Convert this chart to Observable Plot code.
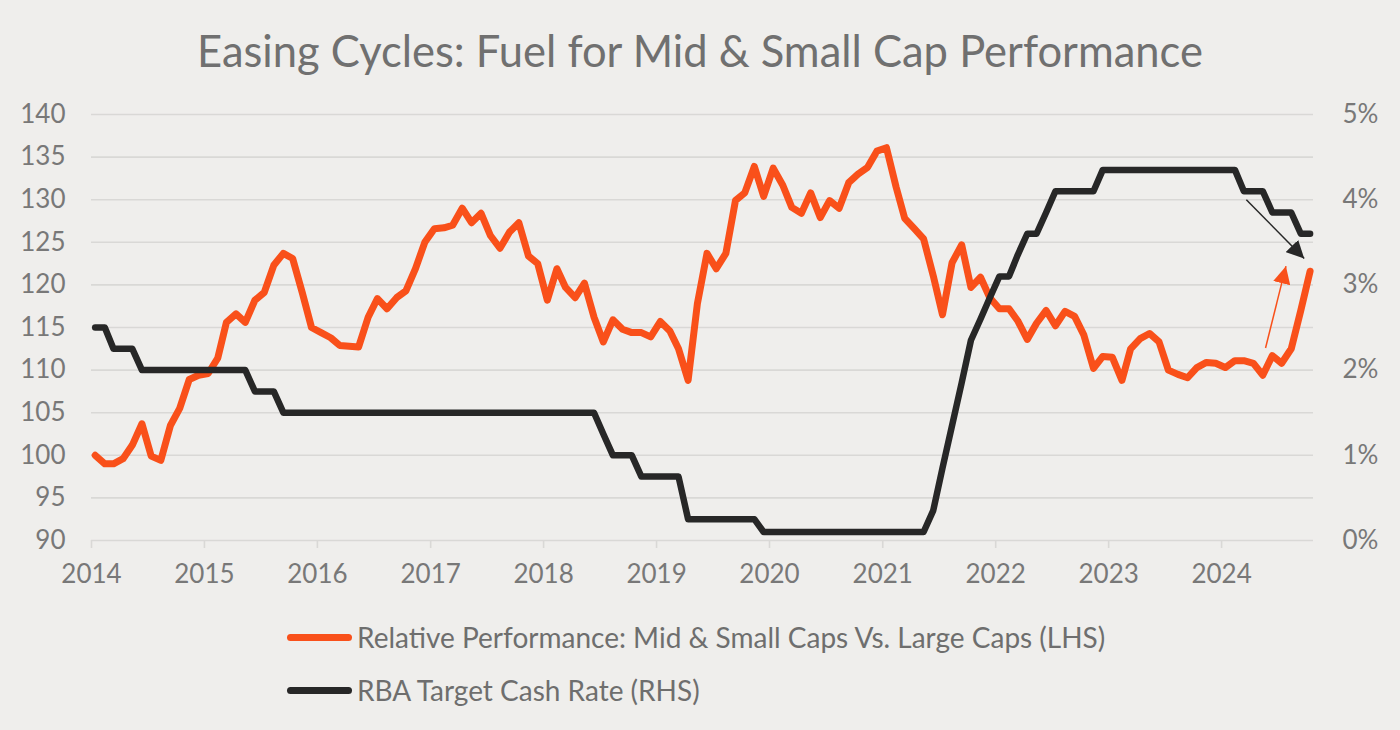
<!DOCTYPE html>
<html>
<head>
<meta charset="utf-8">
<script src="https://cdn.jsdelivr.net/npm/d3@7"></script>
<script src="https://cdn.jsdelivr.net/npm/@observablehq/plot@0.6"></script>
<style>
html, body { margin: 0; padding: 0; background: #efeeec; }
body { width: 1400px; height: 730px; overflow: hidden; font-family: Lato, "Open Sans", sans-serif; }
#title { height: 90px; line-height: 100px; text-align: center; font-size: 43.5px; color: #707070; white-space: nowrap; }
#chart svg { display: block; }
#legend { position: relative; height: 130px; }
.row { position: absolute; left: 287px; display: flex; align-items: center; height: 40px; }
.sw { width: 65px; height: 7px; border-radius: 4px; margin-right: 5px; }
.lab { font-size: 28px; color: #6e6e6e; white-space: nowrap; }
</style>
</head>
<body>
<div id="title">Easing Cycles: Fuel for Mid &amp; Small Cap Performance</div>
<div id="chart"></div>
<div id="legend"></div>
<script>
// ---------------- data ----------------
const startYear = 2014; // monthly series starting January 2014

// Relative Performance: Mid & Small Caps Vs. Large Caps (LHS), monthly
const perf = [
  100.0, 99.0, 99.0, 99.6, 101.2, 103.7, 99.9, 99.4, 103.5, 105.5, 108.9, 109.4,
  109.6, 111.4, 115.6, 116.6, 115.6, 118.2, 119.1, 122.3, 123.7, 123.1, 119.1, 115.0,
  114.4, 113.8, 112.9, 112.8, 112.7, 116.2, 118.4, 117.2, 118.5, 119.3, 121.9, 125.0,
  126.6, 126.7, 127.0, 129.0, 127.3, 128.4, 125.8, 124.3, 126.2, 127.3, 123.4, 122.5,
  118.2, 121.9, 119.7, 118.5, 120.2, 116.2, 113.3, 115.9, 114.8, 114.4, 114.4, 113.9,
  115.7, 114.6, 112.5, 108.8, 117.8, 123.7, 121.9, 123.7, 129.9, 130.8, 133.9, 130.4,
  133.7, 131.7, 129.1, 128.4, 130.8, 127.9, 129.9, 129.0, 132.0, 133.0, 133.8, 135.7,
  136.1, 131.5, 127.8, 126.6, 125.4, 121.1, 116.5, 122.6, 124.7, 119.7, 120.9, 118.5,
  117.2, 117.2, 115.8, 113.6, 115.5, 117.0, 115.2, 116.9, 116.3, 114.1, 110.2, 111.6,
  111.5, 108.8, 112.5, 113.7, 114.3, 113.3, 110.0, 109.5, 109.1, 110.3, 110.9, 110.8,
  110.3, 111.1, 111.1, 110.8, 109.4, 111.7, 110.8, 112.5, 117.0, 121.6
];

// RBA Target Cash Rate (RHS), percent, monthly
const rate = [
  2.5, 2.5, 2.25, 2.25, 2.25, 2.0, 2.0, 2.0, 2.0, 2.0, 2.0, 2.0,
  2.0, 2.0, 2.0, 2.0, 2.0, 1.75, 1.75, 1.75, 1.5, 1.5, 1.5, 1.5,
  1.5, 1.5, 1.5, 1.5, 1.5, 1.5, 1.5, 1.5, 1.5, 1.5, 1.5, 1.5,
  1.5, 1.5, 1.5, 1.5, 1.5, 1.5, 1.5, 1.5, 1.5, 1.5, 1.5, 1.5,
  1.5, 1.5, 1.5, 1.5, 1.5, 1.5, 1.25, 1.0, 1.0, 1.0, 0.75, 0.75,
  0.75, 0.75, 0.75, 0.25, 0.25, 0.25, 0.25, 0.25, 0.25, 0.25, 0.25, 0.1,
  0.1, 0.1, 0.1, 0.1, 0.1, 0.1, 0.1, 0.1, 0.1, 0.1, 0.1, 0.1,
  0.1, 0.1, 0.1, 0.1, 0.1, 0.35, 0.85, 1.35, 1.85, 2.35, 2.6, 2.85,
  3.1, 3.1, 3.35, 3.6, 3.6, 3.85, 4.1, 4.1, 4.1, 4.1, 4.1, 4.35,
  4.35, 4.35, 4.35, 4.35, 4.35, 4.35, 4.35, 4.35, 4.35, 4.35, 4.35, 4.35,
  4.35, 4.35, 4.1, 4.1, 4.1, 3.85, 3.85, 3.85, 3.6, 3.6
];

const yearTicks = [2014, 2015, 2016, 2017, 2018, 2019, 2020, 2021, 2022, 2023, 2024];
const leftTicks = [90, 95, 100, 105, 110, 115, 120, 125, 130, 135, 140];
const rightTicks = [0, 1, 2, 3, 4, 5]; // percent

const seriesNames = [
  "Relative Performance: Mid & Small Caps Vs. Large Caps (LHS)",
  "RBA Target Cash Rate (RHS)"
];
const seriesColors = ["#f9501a", "#272727"];

// annotation arrows (start/end in date + LHS units)
const arrowStart = [["2024-03-21", 130.0], ["2024-05-22", 112.6]];
const arrowEnd   = [["2024-09-24", 123.1], ["2024-07-27", 122.2]];

// ---------------- build ----------------
const lhsMin = 90, lhsPerPct = 10; // right axis 0%..5% maps onto left 90..140
const toLhs = r => lhsMin + r * lhsPerPct;
const monthDate = i => new Date(Date.UTC(startYear, i, 13));

const perfData = perf.map((v, i) => ({date: monthDate(i), value: v}));
const rateData = rate.map((v, i) => ({date: monthDate(i), value: toLhs(v)}));
const yearDates = yearTicks.map(y => new Date(Date.UTC(y, 0, 1)));
const arrows = arrowStart.map((s, i) => ({
  x1: new Date(s[0]), y1: s[1], x2: new Date(arrowEnd[i][0]), y2: arrowEnd[i][1]
}));

const labelColor = "#787878";
const gridColor = "#d9d8d6";

const chart = Plot.plot({
  width: 1400,
  height: 510,
  marginLeft: 91,
  marginRight: 87,
  marginTop: 24,
  marginBottom: 60,
  style: {background: "transparent", fontFamily: "Lato, 'Open Sans', sans-serif", fontSize: "26px", color: labelColor, overflow: "visible"},
  x: {type: "utc", domain: [new Date(Date.UTC(2014, 0, 1)), new Date(Date.UTC(2024, 9, 24))]},
  y: {domain: [90, 140]},
  marks: [
    Plot.gridY(leftTicks, {stroke: gridColor, strokeOpacity: 1, strokeWidth: 1.6}),
    Plot.axisX(yearDates, {
      tickSize: 8, tickPadding: 16, stroke: gridColor, strokeWidth: 1.6, fill: labelColor,
      fontSize: 26, tickFormat: d3.utcFormat("%Y"), label: null
    }),
    Plot.axisY(leftTicks, {anchor: "left", tickSize: 0, tickPadding: 26, fill: labelColor, fontSize: 26, label: null}),
    Plot.axisY(rightTicks.map(toLhs), {
      anchor: "right", tickSize: 0, tickPadding: 29, fill: labelColor, fontSize: 26, label: null,
      tickFormat: d => `${(d - lhsMin) / lhsPerPct}%`
    }),
    Plot.line(perfData, {x: "date", y: "value", stroke: seriesColors[0], strokeWidth: 7, strokeLinejoin: "round", strokeLinecap: "round"}),
    Plot.line(rateData, {x: "date", y: "value", stroke: seriesColors[1], strokeWidth: 6.5, strokeLinejoin: "round", strokeLinecap: "round"}),
    Plot.link([arrows[0]], {x1: "x1", y1: "y1", x2: "x2", y2: "y2", stroke: seriesColors[1], strokeWidth: 1.5, markerEnd: "arrow"}),
    Plot.link([arrows[1]], {x1: "x1", y1: "y1", x2: "x2", y2: "y2", stroke: seriesColors[0], strokeWidth: 1.5, markerEnd: "arrow"})
  ]
});

// filled triangular arrowheads
chart.querySelectorAll("marker").forEach(m => {
  const color = m.getAttribute("stroke") || "#272727";
  m.setAttribute("viewBox", "-10 -5 10 10");
  m.setAttribute("markerUnits", "userSpaceOnUse");
  m.setAttribute("markerWidth", "17.5");
  m.setAttribute("markerHeight", "17.5");
  m.setAttribute("refX", "0");
  m.setAttribute("refY", "0");
  m.setAttribute("fill", color);
  m.setAttribute("stroke", "none");
  while (m.firstChild) m.removeChild(m.firstChild);
  const p = document.createElementNS("http://www.w3.org/2000/svg", "path");
  p.setAttribute("d", "M-10,-5L0,0L-10,5Z");
  m.appendChild(p);
});

document.getElementById("chart").appendChild(chart);

// legend
const legend = document.getElementById("legend");
seriesNames.forEach((name, i) => {
  const row = document.createElement("div");
  row.className = "row";
  row.style.top = (17 + i * 53) + "px";
  const sw = document.createElement("div");
  sw.className = "sw";
  sw.style.background = seriesColors[i];
  const lab = document.createElement("div");
  lab.className = "lab";
  lab.textContent = name;
  row.appendChild(sw);
  row.appendChild(lab);
  legend.appendChild(row);
});
</script>
</body>
</html>
